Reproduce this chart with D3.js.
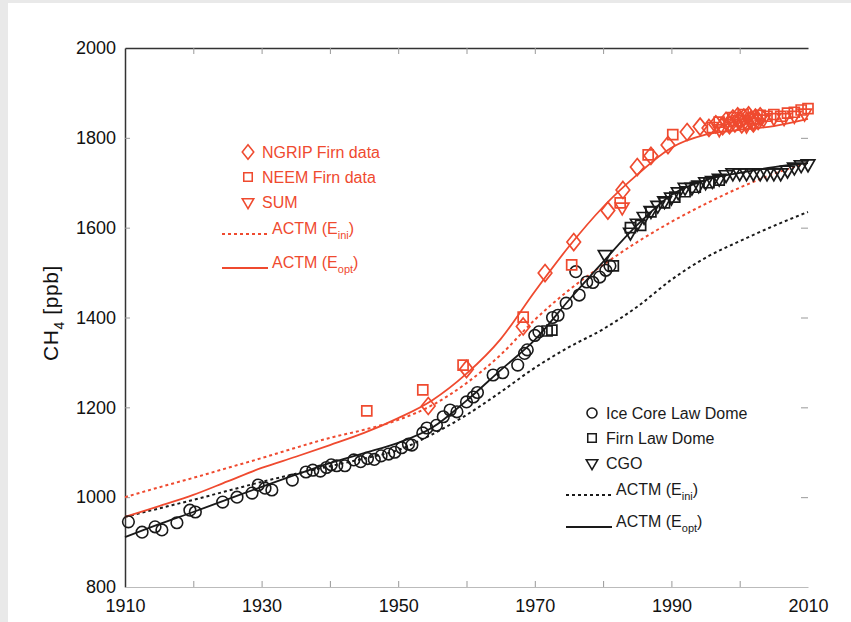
<!DOCTYPE html>
<html>
<head>
<meta charset="utf-8">
<script src="https://cdn.jsdelivr.net/npm/d3@7"></script>
<style>
  body { margin: 0; background: #fff; }
  text { font-family: "Liberation Sans", Arial, sans-serif; }
</style>
</head>
<body>
<div id="chart"></div>
<script>
let width = 851, height = 622

// DATA
let yTicks = [800, 1000, 1200, 1400, 1600, 1800, 2000]
let xTicks = [1910, 1930, 1950, 1970, 1990, 2010]
let xMinor = [1920, 1930, 1940, 1950, 1960, 1970, 1980, 1990, 2000]

let modelYears = [1910, 1915, 1920, 1925, 1930, 1935, 1940, 1945, 1950, 1955, 1960,
  1965, 1970, 1975, 1980, 1985, 1990, 1995, 2000, 2005, 2010]
let redOpt = [956, 980, 1005, 1035, 1065, 1090, 1116, 1143, 1176, 1216, 1275,
  1352, 1458, 1558, 1646, 1718, 1778, 1807, 1818, 1826, 1842]
let redIni = [1000, 1022, 1043, 1065, 1087, 1110, 1132, 1150, 1172, 1205, 1254,
  1317, 1395, 1461, 1517, 1568, 1613, 1653, 1689, 1720, 1744]
let blackOpt = [911, 940, 967, 995, 1023, 1050, 1076, 1098, 1121, 1155, 1215,
  1283, 1350, 1439, 1524, 1606, 1673, 1706, 1722, 1735, 1744]
let blackIni = [956, 975, 994, 1014, 1034, 1052, 1069, 1086, 1105, 1140, 1183,
  1234, 1288, 1334, 1374, 1424, 1484, 1533, 1570, 1604, 1635]

let ngrip = [[1954.4,1203],[1960,1285],[1968.3,1380],[1971.5,1499],[1975.7,1568],
  [1980.7,1638],[1982.9,1684],[1985,1735],[1987,1760],[1989.5,1784],[1992.3,1813],
  [1994.2,1825],[1995.5,1822],[1996.5,1830],[1997.5,1826],[1998,1838],[1998.5,1828],
  [1999,1843],[1999.3,1832],[1999.7,1848],[2000,1838],[2000.3,1830],[2000.6,1845],
  [2001,1836],[2001.3,1850],[2001.6,1840],[2002,1832],[2002.3,1845],[2002.7,1838],[2003,1848]]
let neem = [[1945.4,1192],[1953.6,1239],[1959.5,1294],[1968.3,1401],[1975.4,1517],
  [1982.5,1655],[1986.6,1762],[1990.2,1807],[1996,1823],[1997,1835],[1999,1845],
  [2000.5,1852],[2002,1842],[2003,1850],[2004,1848],[2005,1852],[2006,1848],
  [2007,1855],[2008,1857],[2009,1862],[2010,1865]]
let sum = [[1982.8,1646],[1997,1820],[1998.5,1832],[2000,1840],[2001,1828],[2002,1835],
  [2003.5,1842],[2005,1845],[2006.5,1845],[2008,1850],[2009.5,1855]]

let iceCore = [[1910.5,945],[1912.5,922],[1914.4,934],[1915.4,927],[1917.6,943],[1919.5,971],
  [1920.3,967],[1924.3,989],[1926.4,1000],[1928.6,1009],[1929.5,1027],[1930.5,1020],
  [1931.5,1016],[1934.5,1038],[1936.5,1056],[1937.5,1060],[1938.6,1058],[1939.5,1066],
  [1940.2,1072],[1941,1070],[1942.2,1070],[1943.5,1083],[1944.5,1079],[1945.5,1086],
  [1946.5,1084],[1947.5,1092],[1948.6,1096],[1949.5,1100],[1950.5,1110],[1951.5,1118],
  [1952,1116],[1953.6,1143],[1954.2,1154],[1955.6,1160],[1956.6,1179],[1957.6,1194],
  [1958.6,1190],[1960,1212],[1961,1223],[1961.6,1233],[1963.9,1272],[1965.3,1277],
  [1967.5,1294],[1968.5,1320],[1968.9,1328],[1970,1360],[1970.6,1368],[1972.6,1400],
  [1973.4,1405],[1974.6,1432],[1976,1502],[1976.5,1450],[1977.6,1479],[1978.5,1478],
  [1979.5,1490],[1980.4,1505],[1981,1515]]
let firnLaw = [[1971.8,1370],[1972.5,1372],[1981.5,1515],[1984,1600],[1985.5,1605],
  [1987,1635],[1989,1655],[1990.5,1668],[1992,1680],[1993.5,1690],[1995.5,1700],[1997,1706]]
let cgo = [[1980.3,1540],[1984,1590],[1985,1610],[1986,1625],[1987,1638],[1988,1650],
  [1989,1660],[1990,1668],[1991,1680],[1992,1690],[1993,1690],[1994,1695],[1995,1702],
  [1996,1705],[1997,1710],[1998,1718],[1999,1722],[2000,1722],[2001,1722],[2002,1722],
  [2003,1722],[2004,1722],[2005,1722],[2006,1722],[2007,1728],[2008,1735],[2009,1740],[2010,1742]]

let red = '#ef4a2f', black = '#1a1a1a', tickGrey = '#999'

let svg = d3.select('#chart').append('svg')
  .attr('width', width)
  .attr('height', height)

// grey frame strips
svg.append('rect').attr('x', 0).attr('y', 0).attr('width', width).attr('height', 3).attr('fill', '#e9e9e9')
svg.append('rect').attr('x', 0).attr('y', 0).attr('width', 8).attr('height', height).attr('fill', '#e9e9e9')

// SCALES
let x = d3.scaleLinear().domain([1910, 2010]).range([125, 808])
let y = d3.scaleLinear().domain([800, 2000]).range([587, 48])

// AXES
let gLeft = svg.append('g').attr('transform', 'translate(' + x(1910) + ',0)')
  .call(d3.axisLeft(y).tickValues(yTicks).tickSize(0).tickPadding(9).tickFormat(d3.format('d')))
gLeft.select('.domain').attr('stroke', '#333').attr('stroke-width', 1.5)
gLeft.selectAll('text').style('font-size', '18px').attr('fill', '#111')

svg.append('g').attr('transform', 'translate(' + x(1910) + ',0)')
  .call(d3.axisRight(y).tickValues(yTicks.slice(1, -1)).tickSize(5).tickFormat(''))
  .call(g => g.select('.domain').remove())
  .selectAll('line').attr('stroke', tickGrey)

svg.append('g').attr('transform', 'translate(' + x(2010) + ',0)')
  .call(d3.axisLeft(y).tickValues(yTicks.slice(1, -1)).tickSize(7).tickFormat(''))
  .call(g => g.select('.domain').remove())
  .selectAll('line').attr('stroke', tickGrey)

let gTop = svg.append('g').attr('transform', 'translate(0,' + y(2000) + ')')
  .call(d3.axisBottom(x).tickValues(xMinor).tickSize(6).tickFormat('').tickSizeOuter(0))
gTop.select('.domain').attr('stroke', '#333').attr('stroke-width', 1.5)
gTop.selectAll('line').attr('stroke', tickGrey)

let gBottom = svg.append('g').attr('transform', 'translate(0,' + y(800) + ')')
  .call(d3.axisTop(x).tickValues(xMinor).tickSize(6).tickFormat('').tickSizeOuter(0))
gBottom.select('.domain').attr('stroke', '#bbb').attr('stroke-width', 1.2)
gBottom.selectAll('line').attr('stroke', tickGrey)

let gLabels = svg.append('g').attr('transform', 'translate(0,' + y(800) + ')')
  .call(d3.axisBottom(x).tickValues(xTicks).tickSize(0).tickPadding(12).tickFormat(d3.format('d')))
gLabels.select('.domain').remove()
gLabels.selectAll('text').style('font-size', '18px').attr('fill', '#111')

// y label
let ylab = svg.append('text')
  .attr('transform', 'translate(58,' + y(1410) + ') rotate(-90)')
  .attr('text-anchor', 'middle')
  .style('font-size', '21px')
  .style('letter-spacing', '0.6px')
  .attr('fill', '#111')
ylab.append('tspan').text('CH')
ylab.append('tspan').text('4').attr('dy', 6).style('font-size', '14px')
ylab.append('tspan').text(' [ppb]').attr('dy', -6)

// LINES
let line = d3.line()
  .x(d => x(d[0]))
  .y(d => y(d[1]))
  .curve(d3.curveMonotoneX)

function drawModel(vals, color, dashed) {
  svg.append('path')
    .datum(modelYears.map((yr, i) => [yr, vals[i]]))
    .attr('d', line)
    .attr('fill', 'none')
    .attr('stroke', color)
    .attr('stroke-width', dashed ? 2 : 1.8)
    .attr('stroke-dasharray', dashed ? '3,3' : null)
}

drawModel(blackIni, black, true)
drawModel(redIni, red, true)
drawModel(blackOpt, black, false)
drawModel(redOpt, red, false)

// MARKERS
// wider diamond than d3.symbolDiamond
let wideDiamond = {
  draw: function (ctx, size) {
    let h = Math.sqrt(size) * 0.85, w = h * 0.8
    ctx.moveTo(0, -h)
    ctx.lineTo(w, 0)
    ctx.lineTo(0, h)
    ctx.lineTo(-w, 0)
    ctx.closePath()
  }
}
let diamond = d3.symbol().type(wideDiamond).size(100)
let square = d3.symbol().type(d3.symbolSquare).size(100)
let tri = d3.symbol().type(d3.symbolTriangle).size(80)

function drawSymbols(data, gen, color, rot) {
  svg.append('g').selectAll('path')
    .data(data)
    .enter().append('path')
    .attr('d', gen)
    .attr('transform', d => 'translate(' + x(d[0]) + ',' + y(d[1]) + ')' + (rot ? ' rotate(180)' : ''))
    .attr('fill', 'none')
    .attr('stroke', color)
    .attr('stroke-width', 1.7)
}

svg.append('g').selectAll('circle')
  .data(iceCore)
  .enter().append('circle')
  .attr('cx', d => x(d[0]))
  .attr('cy', d => y(d[1]))
  .attr('r', 5.8)
  .attr('fill', 'none')
  .attr('stroke', black)
  .attr('stroke-width', 1.6)

drawSymbols(firnLaw, square, black, false)
drawSymbols(cgo, tri, black, true)
drawSymbols(ngrip, diamond, red, false)
drawSymbols(neem, square, red, false)
drawSymbols(sum, tri, red, true)

// LEGENDS
function legend(x0, rows, color) {
  let g = svg.append('g')
  rows.forEach(function (r) {
    if (r.sym === 'circle') {
      g.append('circle').attr('cx', x0).attr('cy', r.y).attr('r', 5)
        .attr('fill', 'none').attr('stroke', color).attr('stroke-width', 1.6)
    } else if (r.sym) {
      g.append('path').attr('d', r.sym)
        .attr('transform', 'translate(' + x0 + ',' + r.y + ')' + (r.rot ? ' rotate(180) scale(0.85)' : ' scale(0.85)'))
        .attr('fill', 'none').attr('stroke', color).attr('stroke-width', 1.8)
    }
    if (r.line) {
      g.append('line').attr('x1', x0 - 26).attr('x2', x0 + 20)
        .attr('y1', r.y + 6).attr('y2', r.y + 6)
        .attr('stroke', color).attr('stroke-width', r.line === 'dash' ? 2 : 1.8)
        .attr('stroke-dasharray', r.line === 'dash' ? '3,3' : null)
    }
    let t = g.append('text').attr('x', r.line ? x0 + 24 : x0 + 14).attr('y', r.y + 6)
      .attr('fill', color).style('font-size', '16px')
    if (r.sub) {
      t.append('tspan').text(r.label)
      t.append('tspan').text(r.sub).attr('dy', 5).style('font-size', '11px')
      t.append('tspan').text(')').attr('dy', -5)
    } else {
      t.text(r.label)
    }
  })
}

legend(248, [
  { y: 152, sym: diamond, label: 'NGRIP Firn data' },
  { y: 177, sym: square, label: 'NEEM Firn data' },
  { y: 202, sym: tri, rot: true, label: 'SUM' },
  { y: 228, line: 'dash', label: 'ACTM (E', sub: 'ini' },
  { y: 262, line: 'solid', label: 'ACTM (E', sub: 'opt' }
], red)

legend(592, [
  { y: 413, sym: 'circle', label: 'Ice Core Law Dome' },
  { y: 438, sym: square, label: 'Firn Law Dome' },
  { y: 463, sym: tri, rot: true, label: 'CGO' },
  { y: 489, line: 'dash', label: 'ACTM (E', sub: 'ini' },
  { y: 521, line: 'solid', label: 'ACTM (E', sub: 'opt' }
], black)
</script>
</body>
</html>
